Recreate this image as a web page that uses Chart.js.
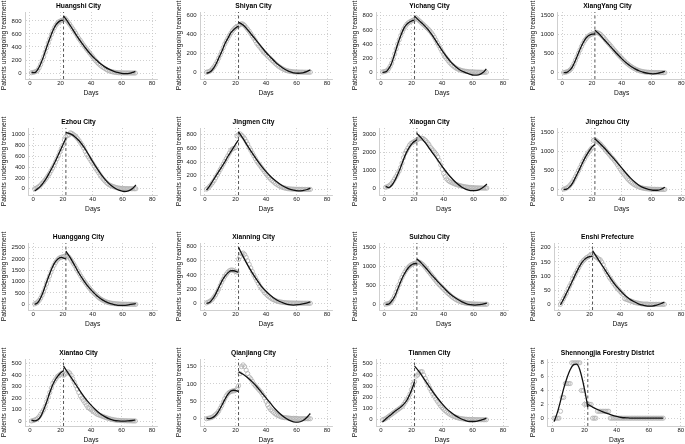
<!DOCTYPE html>
<html>
<head>
<meta charset="utf-8">
<script src="https://cdn.jsdelivr.net/npm/chart.js@4.4.1/dist/chart.umd.min.js"></script>
<style>
  html, body { margin: 0; padding: 0; background: #fff; }
  body { width: 685px; height: 444px; overflow: hidden; position: relative; }
  .panel { position: absolute; width: 176px; height: 115px; }
</style>
</head>
<body>
<script>
/* ---------- data ---------- */

const days = [1, 2, 3, 4, 5, 6, 7, 8, 9, 10, 11, 12, 13, 14, 15, 16, 17, 18, 19, 20,
  21, 22, 23, 24, 25, 26, 27, 28, 29, 30, 31, 32, 33, 34, 35, 36, 37, 38, 39, 40,
  41, 42, 43, 44, 45, 46, 47, 48, 49, 50, 51, 52, 53, 54, 55, 56, 57, 58, 59, 60,
  61, 62, 63, 64, 65, 66, 67, 68, 69];
const fitDaysBefore = [1, 3, 5, 7, 9, 11, 13, 15, 17, 19, 21, 22];
const fitDaysAfter = [22, 25, 28, 31, 34, 37, 40, 43, 46, 49, 52, 55, 58, 61, 64, 67, 69];
const cutoffDay = 22;
const xTicks = [0, 20, 40, 60, 80];

// Huangshi City
const obsHuangshi = [5, 10, 15, 25, 40, 80, 130, 190, 250, 320,
  390, 460, 525, 590, 645, 695, 735, 765, 790, 800,
  810, 820, 840, 810, 780, 750, 715, 680, 645, 610,
  570, 530, 500, 465, 430, 400, 370, 340, 310, 280,
  250, 220, 190, 165, 140, 120, 100, 85, 70, 55,
  42, 32, 24, 18, 13, 9, 6, 4, 3, 2,
  2, 1, 1, 1, 1, 0, 0, 0, 0];
const fitBHuangshi = [10, 5, 50, 140, 260, 400, 530, 650, 740, 790, 810, 815];
const fitAHuangshi = [880, 780, 670, 560, 460, 365, 280, 210, 145, 95, 55, 25, 5, -8, -8, 8, 25];
const ticksHuangshi = [0, 200, 400, 600, 800];

// Shiyan City
const obsShiyan = [0, 5, 10, 20, 40, 60, 85, 115, 150, 185,
  220, 260, 300, 330, 360, 390, 415, 440, 460, 475,
  485, 495, 505, 515, 510, 495, 475, 455, 435, 410,
  385, 360, 335, 305, 285, 265, 245, 225, 205, 190,
  172, 158, 142, 125, 110, 95, 80, 66, 55, 45,
  36, 28, 21, 16, 12, 9, 7, 5, 4, 3,
  3, 2, 2, 2, 1, 1, 1, 1, 1];
const fitBShiyan = [-10, 0, 30, 80, 150, 220, 300, 360, 420, 455, 480, 490];
const fitAShiyan = [530, 500, 450, 390, 330, 270, 210, 160, 110, 70, 35, 10, -5, -10, -5, 10, 25];
const ticksShiyan = [0, 200, 400, 600];

// Yichang City
const obsYichang = [5, 10, 15, 25, 50, 85, 130, 190, 260, 330,
  400, 460, 520, 570, 615, 650, 680, 700, 715, 725,
  735, 750, 770, 750, 730, 710, 690, 670, 650, 630,
  610, 585, 560, 530, 495, 455, 415, 375, 335, 295,
  255, 222, 192, 164, 138, 115, 95, 77, 62, 50,
  40, 32, 25, 20, 16, 13, 10, 8, 7, 6,
  5, 4, 3, 3, 2, 2, 1, 1, 1];
const fitBYichang = [0, 5, 50, 130, 260, 400, 520, 620, 680, 715, 735, 740];
const fitAYichang = [795, 730, 670, 600, 510, 410, 310, 220, 140, 80, 30, 0, -25, -40, -35, 0, 50];
const ticksYichang = [0, 200, 400, 600, 800];

// XiangYang City
const obsXiangyang = [5, 10, 20, 35, 60, 100, 160, 240, 330, 420,
  510, 600, 690, 770, 840, 890, 940, 975, 1000, 1015,
  1025, 1035, 1060, 1050, 1030, 1000, 960, 920, 870, 820,
  780, 735, 690, 640, 595, 550, 505, 460, 420, 380,
  340, 300, 262, 230, 200, 170, 145, 120, 100, 80,
  65, 50, 40, 30, 24, 18, 14, 10, 8, 6,
  5, 4, 3, 3, 2, 2, 1, 1, 1];
const fitBXiangyang = [0, 5, 60, 160, 330, 520, 700, 850, 950, 1000, 1015, 1020];
const fitAXiangyang = [1120, 1010, 880, 750, 620, 490, 370, 260, 170, 100, 45, 5, -20, -30, -20, 10, 35];
const ticksXiangyang = [0, 500, 1000, 1500];

// Ezhou City
const obsEzhou = [0, 10, 25, 45, 70, 100, 130, 165, 200, 240,
  280, 330, 380, 430, 490, 550, 610, 680, 740, 800,
  900, 960, 980, 990, 1030, 1020, 1000, 980, 950, 920,
  880, 840, 800, 750, 690, 630, 590, 550, 505, 465,
  420, 375, 335, 295, 255, 215, 180, 150, 120, 95,
  75, 60, 50, 40, 30, 22, 16, 12, 8, 6,
  5, 4, 3, 3, 2, 2, 1, 1, 1];
const fitBEzhou = [-40, 0, 50, 120, 200, 300, 400, 510, 630, 750, 870, 930];
const fitAEzhou = [1040, 1010, 960, 880, 770, 640, 500, 370, 250, 150, 70, 10, -30, -50, -40, 10, 70];
const ticksEzhou = [0, 200, 400, 600, 800, 1000];

// Jingmen City
const obsJingmen = [5, 20, 45, 70, 100, 130, 170, 210, 250, 290,
  330, 370, 410, 450, 490, 530, 570, 590, 600, 610,
  780, 800, 810, 790, 770, 740, 700, 660, 610, 570,
  530, 490, 450, 410, 380, 350, 320, 290, 260, 230,
  200, 175, 150, 130, 110, 90, 75, 60, 48, 38,
  30, 23, 18, 13, 10, 8, 6, 5, 4, 3,
  3, 2, 2, 2, 1, 1, 1, 1, 1];
const fitBJingmen = [-10, 50, 120, 190, 260, 330, 400, 480, 550, 620, 690, 720];
const fitAJingmen = [840, 740, 630, 530, 430, 340, 260, 190, 130, 80, 40, 10, -10, -20, -15, 0, 20];
const ticksJingmen = [0, 200, 400, 600, 800];

// Xiaogan City
const obsXiaogan = [50, 80, 120, 180, 260, 380, 520, 650, 800, 950,
  1150, 1400, 1700, 1950, 2100, 2250, 2400, 2500, 2550, 2600,
  2650, 2700, 2750, 2780, 2800, 2780, 2720, 2650, 2550, 2450,
  2300, 2200, 2100, 2000, 1900, 1750, 1550, 1300, 1050, 820,
  650, 520, 430, 370, 330, 290, 250, 220, 190, 165,
  140, 120, 100, 85, 70, 58, 48, 40, 33, 27,
  22, 18, 15, 12, 10, 8, 6, 5, 4];
const fitBXiaogan = [100, 30, 150, 400, 750, 1150, 1600, 2000, 2300, 2520, 2650, 2700];
const fitAXiaogan = [3060, 2800, 2500, 2150, 1800, 1450, 1100, 780, 500, 260, 70, -60, -130, -140, -80, 80, 230];
const ticksXiaogan = [0, 1000, 2000, 3000];

// Jingzhou City
const obsJingzhou = [10, 20, 40, 60, 100, 150, 200, 270, 340, 420,
  500, 580, 660, 740, 810, 880, 940, 1000, 1050, 1100,
  1300, 1320, 1290, 1260, 1230, 1190, 1140, 1100, 1050, 1000,
  960, 910, 860, 820, 770, 720, 660, 600, 540, 480,
  430, 380, 330, 280, 240, 200, 170, 140, 115, 95,
  75, 60, 48, 38, 30, 24, 18, 14, 10, 8,
  6, 5, 4, 3, 3, 2, 2, 1, 1];
const fitBJingzhou = [0, 10, 70, 170, 320, 480, 650, 810, 950, 1070, 1160, 1190];
const fitAJingzhou = [1340, 1230, 1110, 980, 850, 710, 570, 430, 300, 190, 100, 40, 0, -20, -20, 15, 60];
const ticksJingzhou = [0, 500, 1000, 1500];

// Huanggang City
const obsHuanggang = [20, 50, 100, 170, 270, 400, 550, 720, 900, 1080,
  1250, 1420, 1580, 1720, 1840, 1940, 2010, 2060, 2080, 2100,
  2120, 2150, 2130, 2080, 2000, 1900, 1800, 1700, 1580, 1470,
  1360, 1250, 1150, 1050, 960, 870, 780, 700, 620, 550,
  480, 420, 360, 300, 250, 210, 170, 140, 110, 90,
  70, 55, 45, 35, 28, 22, 17, 13, 10, 8,
  6, 5, 4, 3, 3, 2, 2, 1, 1];
const fitBHuanggang = [0, 70, 280, 600, 970, 1330, 1650, 1880, 2020, 2070, 2030, 2000];
const fitAHuanggang = [2350, 2050, 1700, 1350, 1050, 780, 560, 370, 220, 110, 30, -20, -50, -50, -20, 10, 30];
const ticksHuanggang = [0, 500, 1000, 1500, 2000, 2500];

// Xianning City
const obsXianning = [5, 15, 25, 40, 60, 90, 120, 160, 200, 250,
  300, 340, 380, 410, 440, 460, 470, 470, 460, 450,
  440, 620, 660, 700, 710, 690, 650, 600, 550, 500,
  450, 400, 360, 320, 280, 240, 210, 180, 150, 130,
  110, 90, 75, 60, 50, 40, 32, 25, 20, 16,
  13, 10, 8, 6, 5, 4, 4, 3, 3, 2,
  2, 2, 1, 1, 1, 1, 1, 0, 0];
const fitBXianning = [0, 10, 60, 130, 220, 310, 380, 430, 460, 460, 445, 440];
const fitAXianning = [790, 660, 540, 430, 330, 240, 170, 110, 60, 25, 0, -20, -25, -20, -10, 5, 20];
const ticksXianning = [0, 200, 400, 600, 800];

// Suizhou City
const obsSuizhou = [5, 10, 20, 40, 80, 140, 220, 320, 420, 520,
  620, 710, 790, 860, 920, 970, 1010, 1040, 1060, 1080,
  1090, 1100, 1120, 1110, 1080, 1050, 1010, 960, 910, 860,
  810, 760, 710, 660, 610, 560, 520, 480, 440, 400,
  360, 320, 285, 250, 215, 185, 155, 130, 108, 90,
  72, 58, 46, 36, 28, 22, 17, 13, 10, 8,
  6, 5, 4, 3, 3, 2, 2, 1, 1];
const fitBSuizhou = [0, 5, 80, 200, 390, 590, 760, 900, 1000, 1060, 1080, 1080];
const fitASuizhou = [1200, 1090, 960, 820, 690, 560, 440, 320, 220, 140, 70, 20, -10, -20, -10, 10, 30];
const ticksSuizhou = [0, 500, 1000, 1500];

// Enshi Prefecture
const obsEnshi = [0, 10, 20, 30, 40, 55, 65, 75, 90, 100,
  110, 120, 130, 140, 148, 155, 160, 165, 168, 172,
  175, 178, 172, 168, 165, 160, 158, 150, 140, 125,
  115, 105, 95, 88, 80, 72, 65, 58, 52, 46,
  40, 35, 20, 18, 16, 14, 12, 10, 8, 6,
  5, 4, 3, 2, 1, 1, 1, 1, 0, 0,
  0, 0, 0, 0, 0, 0, 0, 0, 0];
const fitBEnshi = [-2, 18, 40, 62, 85, 108, 130, 148, 160, 167, 170, 170];
const fitAEnshi = [190, 165, 140, 115, 90, 68, 50, 33, 20, 10, 2, -3, -6, -6, -3, 3, 8];
const ticksEnshi = [0, 50, 100, 150, 200];

// Xiantao City
const obsXiantao = [2, 5, 10, 15, 25, 40, 60, 80, 100, 130,
  170, 210, 250, 290, 330, 350, 370, 390, 400, 410,
  420, 400, 410, 420, 430, 420, 400, 370, 340, 310,
  280, 250, 220, 200, 180, 160, 140, 120, 110, 100,
  90, 80, 70, 60, 55, 50, 45, 40, 35, 30,
  26, 22, 18, 15, 12, 10, 8, 7, 6, 5,
  5, 4, 4, 3, 3, 3, 2, 2, 2];
const fitBXiantao = [10, 2, 10, 40, 100, 170, 250, 320, 370, 405, 430, 440];
const fitAXiantao = [480, 420, 360, 300, 240, 185, 140, 100, 65, 40, 20, 8, 2, 0, 2, 6, 10];
const ticksXiantao = [0, 100, 200, 300, 400, 500];

// Qianjiang City
const obsQianjiang = [0, 1, 2, 3, 5, 8, 12, 16, 22, 30,
  38, 48, 58, 66, 72, 76, 78, 80, 80, 82,
  85, 95, 130, 150, 155, 150, 140, 130, 120, 115,
  108, 100, 95, 90, 85, 80, 75, 68, 60, 50,
  40, 32, 26, 22, 18, 14, 11, 9, 7, 5,
  4, 3, 3, 2, 2, 1, 1, 1, 1, 1,
  0, 0, 0, 0, 0, 0, 0, 0, 0];
const fitBQianjiang = [2, 0, 3, 10, 22, 38, 55, 70, 80, 82, 80, 78];
const fitAQianjiang = [135, 128, 118, 106, 92, 76, 60, 44, 28, 15, 4, -4, -9, -10, -6, 5, 15];
const ticksQianjiang = [0, 50, 100, 150];

// Tianmen City
const obsTianmen = [0, 5, 10, 20, 30, 40, 50, 60, 70, 80,
  90, 100, 110, 120, 140, 160, 180, 200, 230, 270,
  320, 340, 390, 400, 420, 430, 430, 400, 370, 340,
  310, 280, 255, 230, 210, 185, 165, 145, 125, 110,
  95, 82, 70, 60, 50, 42, 35, 29, 24, 20,
  15, 12, 10, 8, 6, 5, 4, 4, 3, 3,
  3, 2, 2, 2, 1, 1, 1, 1, 1];
const fitBTianmen = [-20, 5, 30, 50, 75, 95, 115, 140, 175, 230, 300, 340];
const fitATianmen = [480, 430, 370, 310, 250, 195, 145, 100, 65, 35, 12, -5, -15, -15, -8, 5, 15];
const ticksTianmen = [0, 100, 200, 300, 400, 500];

// Shennongjia Forestry District
const obsShennongjia = [0, 0, 0, 0, 1, 3, 3, 5, 5, 5,
  5, 8, 8, 8, 8, 8, 8, 4, 4, 2,
  2, 2, 2, 2, 0, 0, 0, 1, 1, 1,
  1, 1, 1, 1, 1, 0, 0, 0, 0, 0,
  0, 0, 0, 0, 0, 0, 0, 0, 0, 0,
  0, 0, 0, 0, 0, 0, 0, 0, 0, 0,
  0, 0, 0, 0, 0, 0, 0, 0, 0];
const fitBShennongjia = [-0.5, 0.8, 2.5, 4.3, 5.8, 7.0, 7.7, 7.8, 7.0, 5.2, 2.9, 1.6];
const fitAShennongjia = [2.0, 1.6, 1.25, 0.95, 0.7, 0.45, 0.25, 0.1, 0.05, 0, 0, 0, 0, 0, 0, 0, 0];
const ticksShennongjia = [0, 2, 4, 6, 8];

/* ---------- panels ---------- */

const panels = [
  { title: "Huangshi City", obs: obsHuangshi, before: fitBHuangshi, after: fitAHuangshi, yTicks: ticksHuangshi, yMin: -92, yMax: 938 },
  { title: "Shiyan City", obs: obsShiyan, before: fitBShiyan, after: fitAShiyan, yTicks: ticksShiyan, yMin: -71, yMax: 639 },
  { title: "Yichang City", obs: obsYichang, before: fitBYichang, after: fitAYichang, yTicks: ticksYichang, yMin: -94, yMax: 852 },
  { title: "XiangYang City", obs: obsXiangyang, before: fitBXiangyang, after: fitAXiangyang, yTicks: ticksXiangyang, yMin: -166, yMax: 1597 },
  { title: "Ezhou City", obs: obsEzhou, before: fitBEzhou, after: fitAEzhou, yTicks: ticksEzhou, yMin: -114, yMax: 1119 },
  { title: "Jingmen City", obs: obsJingmen, before: fitBJingmen, after: fitAJingmen, yTicks: ticksJingmen, yMin: -80, yMax: 895 },
  { title: "Xiaogan City", obs: obsXiaogan, before: fitBXiaogan, after: fitAXiaogan, yTicks: ticksXiaogan, yMin: -380, yMax: 3363 },
  { title: "Jingzhou City", obs: obsJingzhou, before: fitBJingzhou, after: fitAJingzhou, yTicks: ticksJingzhou, yMin: -146, yMax: 1627 },
  { title: "Huanggang City", obs: obsHuanggang, before: fitBHuanggang, after: fitAHuanggang, yTicks: ticksHuanggang, yMin: -250, yMax: 2705 },
  { title: "Xianning City", obs: obsXianning, before: fitBXianning, after: fitAXianning, yTicks: ticksXianning, yMin: -95, yMax: 852 },
  { title: "Suizhou City", obs: obsSuizhou, before: fitBSuizhou, after: fitASuizhou, yTicks: ticksSuizhou, yMin: -151, yMax: 1622 },
  { title: "Enshi Prefecture", obs: obsEnshi, before: fitBEnshi, after: fitAEnshi, yTicks: ticksEnshi, yMin: -20, yMax: 217 },
  { title: "Xiantao City", obs: obsXiantao, before: fitBXiantao, after: fitAXiantao, yTicks: ticksXiantao, yMin: -42, yMax: 542 },
  { title: "Qianjiang City", obs: obsQianjiang, before: fitBQianjiang, after: fitAQianjiang, yTicks: ticksQianjiang, yMin: -21, yMax: 172 },
  { title: "Tianmen City", obs: obsTianmen, before: fitBTianmen, after: fitATianmen, yTicks: ticksTianmen, yMin: -55, yMax: 543 },
  { title: "Shennongjia Forestry District", obs: obsShennongjia, before: fitBShennongjia, after: fitAShennongjia, yTicks: ticksShennongjia, yMin: -1.13, yMax: 8.55 }
];

/* ---------- layout ---------- */

const colLeft = [0, 175, 351, 529];
const rowTop = [-4, 111.5, 227, 342.5];

Chart.defaults.font.family = '"Liberation Sans", Arial, Helvetica, sans-serif';
Chart.defaults.color = "#222";

function toPoints(xs, ys) {
  return xs.map((x, i) => ({ x: x, y: ys[i] }));
}

function makePanel(p, idx) {
  const wrap = document.createElement("div");
  wrap.className = "panel";
  wrap.style.left = colLeft[idx % 4] + "px";
  wrap.style.top = rowTop[Math.floor(idx / 4)] + "px";
  const canvas = document.createElement("canvas");
  canvas.width = 176;
  canvas.height = 115;
  wrap.appendChild(canvas);
  document.body.appendChild(wrap);

  const fitLine = {
    showLine: true,
    borderColor: "#111",
    borderWidth: 1.3,
    pointRadius: 0,
    cubicInterpolationMode: "monotone",
    fill: false,
    order: 0
  };

  new Chart(canvas, {
    type: "line",
    data: {
      datasets: [
        Object.assign({ data: toPoints(fitDaysBefore, p.before) }, fitLine),
        Object.assign({ data: toPoints(fitDaysAfter, p.after) }, fitLine),
        {
          // intervention day marker
          data: [{ x: cutoffDay, y: p.yMin }, { x: cutoffDay, y: p.yMax }],
          borderColor: "#555",
          borderWidth: 1,
          borderDash: [3, 2.5],
          pointRadius: 0,
          fill: false,
          order: 1
        },
        {
          data: toPoints(days, p.obs),
          showLine: false,
          pointStyle: "circle",
          pointRadius: 2.1,
          pointBorderWidth: 0.8,
          pointBorderColor: "#b0b0b0",
          pointBackgroundColor: "rgba(255,255,255,0)",
          order: 2
        }
      ]
    },
    options: {
      responsive: false,
      animation: false,
      events: [],
      layout: { padding: { top: 0, right: 19, bottom: 13.96, left: 0 } },
      plugins: {
        legend: { display: false },
        tooltip: { enabled: false },
        title: {
          display: true,
          text: p.title,
          color: "#000",
          font: { size: 6.7, weight: "bold" },
          padding: { top: 5.98, bottom: 1.98 }
        }
      },
      scales: {
        x: {
          type: "linear",
          min: -3.2,
          max: 83.2,
          afterBuildTicks: (axis) => { axis.ticks = xTicks.map(v => ({ value: v })); },
          ticks: { font: { size: 6 }, padding: 1, maxRotation: 0, callback: (v) => String(v) },
          grid: { color: "#c4c4c4", lineWidth: 0.8, drawTicks: false },
          border: { color: "#cfcfcf", width: 1, dash: [1, 2] },
          title: { display: true, text: "Days", color: "#111", font: { size: 6.7 }, padding: { top: 0.8, bottom: 0 } }
        },
        y: {
          type: "linear",
          min: p.yMin,
          max: p.yMax,
          afterBuildTicks: (axis) => { axis.ticks = p.yTicks.map(v => ({ value: v })); },
          ticks: { font: { size: 6 }, padding: 3.5, callback: (v) => String(v) },
          grid: { color: "#c4c4c4", lineWidth: 0.8, drawTicks: false },
          border: { color: "#cfcfcf", width: 1, dash: [1, 2] },
          title: { display: true, text: "Patients undergoing treatment", color: "#111", font: { size: 6.7 }, padding: { top: 0, bottom: 0 } }
        }
      }
    }
  });
}

panels.forEach(makePanel);
</script>
</body>
</html>
